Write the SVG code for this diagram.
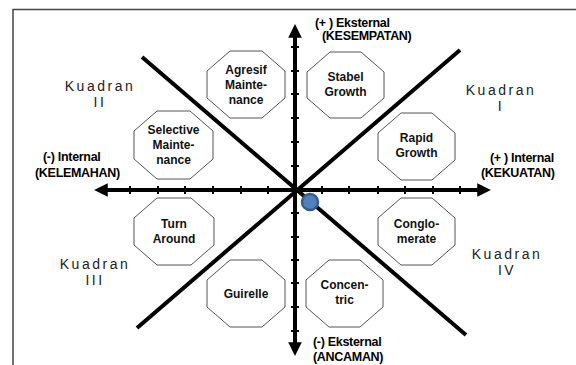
<svg xmlns="http://www.w3.org/2000/svg" width="576" height="365" viewBox="0 0 576 365">
<style>
.oct{fill:#fff;stroke:#555;stroke-width:1}
.nt{font-family:"Liberation Sans",Arial,sans-serif;font-weight:bold;font-size:12px;fill:#111;text-anchor:middle}
.ax{font-family:"Liberation Sans",Arial,sans-serif;font-weight:bold;font-size:12.5px;fill:#000;letter-spacing:-0.3px}
.kq{font-family:"Liberation Sans",Arial,sans-serif;font-size:14px;fill:#222;text-anchor:middle;letter-spacing:2.5px}
.axis{stroke:#000;stroke-width:4;fill:none}
.diag{stroke:#000;stroke-width:4;fill:none}
.tick{stroke:#000;stroke-width:2}
</style>
<defs>
<marker id="ah" viewBox="0 0 10 10" refX="2" refY="5" markerWidth="3.4" markerHeight="3.4" orient="auto" markerUnits="strokeWidth">
<path d="M0,0 L10,5 L0,10 z" fill="#000"/>
</marker>
</defs>
<rect width="576" height="365" fill="#fff"/>
<path d="M13,365 V9.5 H576" fill="none" stroke="#444" stroke-width="1.5"/>

<g id="connectors">
<line class="diag" x1="142" y1="57" x2="466" y2="335"/>
<line class="diag" x1="460" y1="50" x2="137" y2="328"/>
<line class="axis" x1="295" y1="345" x2="295" y2="35" marker-end="url(#ah)"/>
<line class="axis" x1="295" y1="35" x2="295" y2="345" marker-end="url(#ah)"/>
<line class="axis" x1="295" y1="190" x2="105" y2="190" marker-end="url(#ah)"/>
<line class="axis" x1="295" y1="190" x2="480" y2="190" marker-end="url(#ah)"/>
<g class="tick">
<line x1="130" y1="186" x2="130" y2="194"/><line x1="158" y1="186" x2="158" y2="194"/><line x1="185" y1="186" x2="185" y2="194"/><line x1="213" y1="186" x2="213" y2="194"/><line x1="241" y1="186" x2="241" y2="194"/><line x1="268" y1="186" x2="268" y2="194"/>
<line x1="322" y1="186" x2="322" y2="194"/><line x1="349" y1="186" x2="349" y2="194"/><line x1="378" y1="186" x2="378" y2="194"/><line x1="405" y1="186" x2="405" y2="194"/><line x1="433" y1="186" x2="433" y2="194"/><line x1="460" y1="186" x2="460" y2="194"/>
<line x1="291" y1="47" x2="299" y2="47"/><line x1="291" y1="71" x2="299" y2="71"/><line x1="291" y1="94" x2="299" y2="94"/><line x1="291" y1="118" x2="299" y2="118"/><line x1="291" y1="142" x2="299" y2="142"/><line x1="291" y1="166" x2="299" y2="166"/>
<line x1="291" y1="213" x2="299" y2="213"/><line x1="291" y1="237" x2="299" y2="237"/><line x1="291" y1="260" x2="299" y2="260"/><line x1="291" y1="283" x2="299" y2="283"/><line x1="291" y1="307" x2="299" y2="307"/><line x1="291" y1="331" x2="299" y2="331"/>
</g>
</g>

<circle cx="310" cy="202" r="8" fill="#4f81bd" stroke="#385d8a" stroke-width="2.5"/>

<g id="agresif">
<polygon class="oct" points="230,51 262,51 285,71 285,98 262,118 230,118 207,98 207,71"/>
<text class="nt" x="246" y="74">Agresif</text>
<text class="nt" x="246" y="89">Mainte-</text>
<text class="nt" x="246" y="104">nance</text>
</g>
<g id="stabel">
<polygon class="oct" points="330,52 361,52 384,72 384,98 361,118 330,118 307,98 307,72"/>
<text class="nt" x="345.5" y="81">Stabel</text>
<text class="nt" x="345.5" y="96">Growth</text>
</g>
<g id="selective">
<polygon class="oct" points="157,111 190,111 213,131 213,159 190,179 157,179 134,159 134,131"/>
<text class="nt" x="173.5" y="134">Selective</text>
<text class="nt" x="173.5" y="149">Mainte-</text>
<text class="nt" x="173.5" y="164">nance</text>
</g>
<g id="rapid">
<polygon class="oct" points="401,113 432,113 455,133 455,160 432,180 401,180 378,160 378,133"/>
<text class="nt" x="416.5" y="142">Rapid</text>
<text class="nt" x="416.5" y="157">Growth</text>
</g>
<g id="turn">
<polygon class="oct" points="157,198 191,198 214,218 214,245 191,265 157,265 134,245 134,218"/>
<text class="nt" x="174" y="228">Turn</text>
<text class="nt" x="174" y="243">Around</text>
</g>
<g id="conglomerate">
<polygon class="oct" points="401,198 432,198 455,218 455,245 432,265 401,265 378,245 378,218"/>
<text class="nt" x="416.5" y="228">Conglo-</text>
<text class="nt" x="416.5" y="243">merate</text>
</g>
<g id="guirelle">
<polygon class="oct" points="230,260 262,260 285,280 285,307 262,327 230,327 207,307 207,280"/>
<text class="nt" x="246" y="298">Guirelle</text>
</g>
<g id="concentric">
<polygon class="oct" points="329,260 360,260 383,280 383,307 360,327 329,327 306,307 306,280"/>
<text class="nt" x="344.5" y="289">Concen-</text>
<text class="nt" x="344.5" y="304">tric</text>
</g>

<g id="labels">
<text class="ax" x="315" y="27">(+ ) Eksternal</text>
<text class="ax" x="322" y="40">(KESEMPATAN)</text>
<text class="ax" x="490" y="162">(+ ) Internal</text>
<text class="ax" x="481" y="177">(KEKUATAN)</text>
<text class="ax" x="43" y="161">(-) Internal</text>
<text class="ax" x="35" y="177">(KELEMAHAN)</text>
<text class="ax" x="313" y="346">(-) Eksternal</text>
<text class="ax" x="313" y="361">(ANCAMAN)</text>
<text class="kq" x="100" y="91">Kuadran</text>
<text class="kq" x="100" y="107">II</text>
<text class="kq" x="501" y="95">Kuadran</text>
<text class="kq" x="501" y="111">I</text>
<text class="kq" x="95" y="269">Kuadran</text>
<text class="kq" x="95" y="285">III</text>
<text class="kq" x="507" y="259">Kuadran</text>
<text class="kq" x="507" y="275">IV</text>
</g>
</svg>
